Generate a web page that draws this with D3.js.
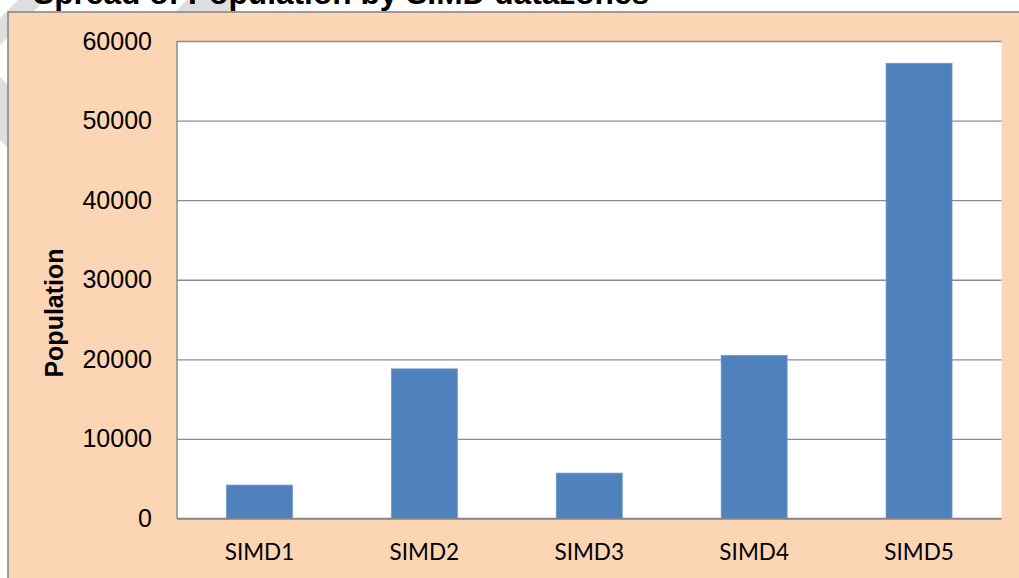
<!DOCTYPE html>
<html>
<head>
<meta charset="utf-8">
<script src="https://cdn.jsdelivr.net/npm/d3@7"></script>
<style>
  html, body { margin: 0; padding: 0; background: #fff; }
  svg { display: block; }
</style>
</head>
<body>
<div id="chart"></div>
<script>
'use strict';

// Chart data
var categories = ['SIMD1', 'SIMD2', 'SIMD3', 'SIMD4', 'SIMD5'];
var population = [4200, 18800, 5700, 20500, 57200];
var yTicks = [0, 10000, 20000, 30000, 40000, 50000, 60000];
var titleText = 'Spread of Population by SIMD datazones';
var yTitle = 'Population';

var width = 1019,
  height = 578,
  plot = {left: 177, right: 1001.5, top: 41, bottom: 518.5};

var svg = d3.select('#chart').append('svg')
  .attr('width', width)
  .attr('height', height);

// faint page watermark behind the chart box
var marks = [
  [[18, 0], [45, 0], [0, 45], [0, 18]],
  [[187, 0], [240, 0], [228, 12], [175, 12]],
  [[0, 77], [8, 85], [8, 148], [0, 140]]
];
svg.selectAll('.wm').data(marks).enter()
  .append('polygon')
  .attr('class', 'wm')
  .attr('points', function (d) { return d.map(function (p) { return p.join(','); }).join(' '); })
  .style('fill', '#dedede');

// title (partly cut off at the top of the page, as in the source)
svg.append('text')
  .attr('x', 33)
  .attr('y', 4)
  .style('font-family', '"Liberation Sans", Arial, sans-serif')
  .style('font-weight', 'bold')
  .style('font-size', '31.7px')
  .style('fill', '#000')
  .text(titleText);

// chart box
svg.append('rect')
  .attr('x', 8)
  .attr('y', 12)
  .attr('width', width + 10)
  .attr('height', height + 10)
  .style('fill', '#fcd5b5')
  .style('stroke', '#888')
  .style('stroke-width', 1.6);

// plot area
svg.append('rect')
  .attr('x', plot.left)
  .attr('y', plot.top)
  .attr('width', plot.right - plot.left)
  .attr('height', plot.bottom - plot.top)
  .style('fill', '#fff');

// Define scales
var x = d3.scaleBand()
  .domain(categories)
  .range([plot.left, plot.right])
  .paddingInner(0.6)
  .paddingOuter(0.3);

var y = d3.scaleLinear()
  .domain([0, 60000])
  .range([plot.bottom, plot.top]);

// gridlines + y tick labels
var yAxis = d3.axisLeft(y)
  .tickValues(yTicks)
  .tickSize(-(plot.right - plot.left))
  .tickPadding(25)
  .tickFormat(d3.format('d'));

var gy = svg.append('g')
  .attr('transform', 'translate(' + plot.left + ',0)')
  .call(yAxis);

gy.select('.domain').remove();
gy.selectAll('.tick line')
  .style('stroke', '#8c8c8c')
  .style('stroke-width', 1.3);
gy.selectAll('.tick text')
  .style('font-family', '"Liberation Sans", Arial, sans-serif')
  .style('font-size', '25px')
  .style('fill', '#000');

// bars
svg.selectAll('.bar').data(population).enter()
  .append('rect')
  .attr('class', 'bar')
  .attr('x', function (d, i) { return x(categories[i]); })
  .attr('width', x.bandwidth())
  .attr('y', function (d) { return y(d); })
  .attr('height', function (d) { return y(0) - y(d); })
  .style('fill', '#4f81bd')
  .style('stroke', '#6f98c9')
  .style('stroke-width', 0.8);

// axis lines
svg.append('line')
  .attr('x1', plot.left).attr('x2', plot.left)
  .attr('y1', plot.top).attr('y2', plot.bottom)
  .style('stroke', '#868686')
  .style('stroke-width', 1.4);

var xAxis = d3.axisBottom(x)
  .tickSize(0)
  .tickPadding(26);

var gx = svg.append('g')
  .attr('transform', 'translate(0,' + plot.bottom + ')')
  .call(xAxis);

gx.select('.domain')
  .attr('d', 'M' + plot.left + ',0H' + plot.right)
  .style('stroke', '#868686')
  .style('stroke-width', 1.6);
gx.selectAll('.tick text')
  .style('font-family', 'Lato, "Open Sans", sans-serif')
  .style('font-size', '22.5px')
  .style('fill', '#000');

// y axis title
svg.append('text')
  .attr('transform', 'translate(63,313) rotate(-90)')
  .attr('text-anchor', 'middle')
  .style('font-family', '"Liberation Sans", Arial, sans-serif')
  .style('font-weight', 'bold')
  .style('font-size', '25px')
  .style('fill', '#000')
  .text(yTitle);
</script>
</body>
</html>
